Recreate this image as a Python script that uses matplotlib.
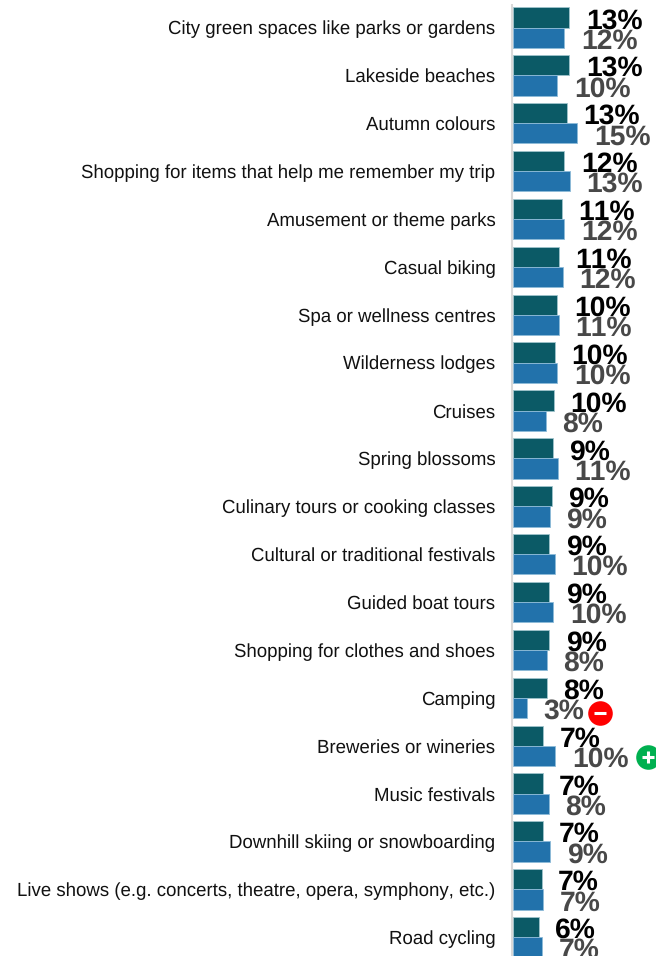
import matplotlib
matplotlib.use("Agg")
import matplotlib.pyplot as plt

plt.rcParams['font.family'] = ['Liberation Sans', 'DejaVu Sans']
plt.rcParams['text.hinting'] = 'no_hinting'
plt.rcParams['text.kerning_factor'] = 6

activities = [
    "City green spaces like parks or gardens",
    "Lakeside beaches",
    "Autumn colours",
    "Shopping for items that help me remember my trip",
    "Amusement or theme parks",
    "Casual biking",
    "Spa or wellness centres",
    "Wilderness lodges",
    "Cruises",
    "Spring blossoms",
    "Culinary tours or cooking classes",
    "Cultural or traditional festivals",
    "Guided boat tours",
    "Shopping for clothes and shoes",
    "Camping",
    "Breweries or wineries",
    "Music festivals",
    "Downhill skiing or snowboarding",
    "Live shows (e.g. concerts, theatre, opera, symphony, etc.)",
    "Road cycling",
]
current = [13.3, 13.3, 12.6, 12.1, 11.47, 10.8, 10.45, 9.8, 9.7, 9.35,
           9.2, 8.6, 8.6, 8.55, 8.0, 7.2, 7.0, 7.0, 6.8, 6.1]
previous = [12.1, 10.47, 15.15, 13.4, 12.1, 11.7, 10.84, 10.47, 7.8, 10.55,
            8.67, 9.9, 9.5, 8.0, 3.3, 10.0, 8.4, 8.8, 7.2, 6.9]
# rows flagged as significantly up or down
flags = {"Camping": "down", "Breweries or wineries": "up"}

W, H = 656, 956
PX_PER_PCT = 4.27
ROW_PX = 47.88
BAR_LEFT = 512.7
FIRST_CENTER = 27.5
BAR_H = 20.2 / ROW_PX


def px_x(p):
    return p / PX_PER_PCT


fig = plt.figure(figsize=(W / 100, H / 100), dpi=100)
ax = fig.add_axes([BAR_LEFT / W, 0, (W - BAR_LEFT) / W, 1])
ax.set_xlim(0, px_x(W - BAR_LEFT))
ax.set_ylim((H - FIRST_CENTER) / ROW_PX, -FIRST_CENTER / ROW_PX)

rows = list(range(len(activities)))
ax.barh([r - BAR_H / 2 for r in rows], current, height=BAR_H, color='#0b5a66',
        edgecolor='#9fc3cc', linewidth=0.6, zorder=2)
ax.barh([r + BAR_H / 2 for r in rows], previous, height=BAR_H, color='#2272ab',
        edgecolor='#8dbbd8', linewidth=0.6, zorder=2)

for r, a, b in zip(rows, current, previous):
    ax.text(a + px_x(16.5), r + 0.8 / ROW_PX, f"{a:.0f}%", fontsize=20.3, weight='bold',
            color='black', va='baseline', ha='left', zorder=3)
    ax.text(b + px_x(16.5), r + 21 / ROW_PX, f"{b:.0f}%", fontsize=20.3, weight='bold',
            color='#484848', va='baseline', ha='left', zorder=4)

# red minus / green plus badges next to the changed rows
for name, kind in flags.items():
    r = activities.index(name)
    b = previous[r]
    if kind == "down":
        x = b + px_x(73.5)
        y = r + 15 / ROW_PX
        ax.scatter([x], [y], s=313, color='#ff0000', linewidths=0, zorder=5)
        ax.scatter([x], [y], s=70, marker='_', color='white', linewidths=2.2, zorder=6)
    else:
        x = b + px_x(92.5)
        y = r + 11.6 / ROW_PX
        ax.scatter([x], [y], s=313, color='#00b050', linewidths=0, zorder=5)
        ax.scatter([x], [y], s=70, marker='+', color='white', linewidths=2.2, zorder=6)

ax.set_yticks(rows)
ax.set_yticklabels(activities, fontsize=13.4, color='#111111')
ax.tick_params(axis='y', length=0, pad=12.5)
ax.set_xticks([])
for s in ax.spines.values():
    s.set_visible(False)
ax.vlines(px_x(-0.7), -FIRST_CENTER / ROW_PX + 3.5 / ROW_PX, (H - FIRST_CENTER) / ROW_PX,
          color='#d9d9d9', linewidth=1.5, clip_on=False, zorder=1)

fig.savefig('out.png', dpi=100)
